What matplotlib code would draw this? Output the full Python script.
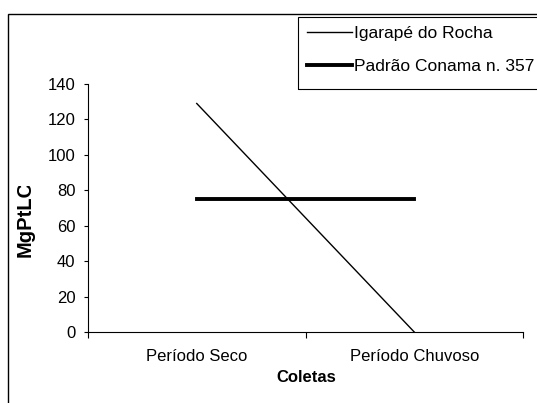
import matplotlib.pyplot as plt
from matplotlib.patches import Rectangle
from matplotlib.transforms import Bbox, TransformedBbox

plt.rcParams['font.family'] = ['Liberation Sans', 'DejaVu Sans']

# Data
categories = ['Período Seco', 'Período Chuvoso']
igarape = [129, 0]
conama = [75, 75]

fig = plt.figure(figsize=(5.37, 4.03), dpi=100)

# outer chart frame (cut off at right and bottom)
fig.patches.append(Rectangle((8 / 537, -0.2), 2, 1.2 - 14 / 403,
                             transform=fig.transFigure, fill=False,
                             edgecolor='black', lw=1.0))
# legend box, also running off the right edge
fig.patches.append(Rectangle((298 / 537, 1 - 89 / 403), 1, 72 / 403,
                             transform=fig.transFigure, fill=False,
                             edgecolor='black', lw=0.8))

ax = fig.add_axes([88 / 537, 71 / 403, 435 / 537, 248 / 403])
x = list(range(len(categories)))
ax.plot(x, igarape, color='black', lw=1.0, label='Igarapé do Rocha')
ax.plot(x, conama, color='black', lw=2.8, label='Padrão Conama n. 357')

ax.set_xlim(-0.5, 1.5)
ax.set_ylim(0, 140)
ax.set_yticks(range(0, 141, 20))
ax.set_xticks([-0.5, 0.5, 1.5])
ax.set_xticklabels([])
ax.set_xticks(x, minor=True)
ax.set_xticklabels(categories, minor=True)
ax.tick_params(axis='x', which='minor', length=0, pad=12, labelsize=12)
ax.tick_params(axis='x', which='major', length=4, direction='out')
ax.tick_params(axis='y', length=3, pad=6, labelsize=12)
for s in ['top', 'right']:
    ax.spines[s].set_visible(False)
for s in ['left', 'bottom']:
    ax.spines[s].set_linewidth(0.8)

fig.text(306 / 537, 1 - 377 / 403, 'Coletas', ha='center', va='center',
         fontsize=12, fontweight='bold')
# axis title is truncated in the original chart
yl = fig.text(25 / 537, 1 - 257 / 403, 'MgPtLCo', rotation=90, ha='center',
              va='bottom', fontsize=14.5, fontweight='bold')
yl.set_clip_box(TransformedBbox(Bbox([[0, 0], [0.2, 1 - 186 / 403]]),
                                fig.transFigure))

leg = fig.legend(loc='upper left', bbox_to_anchor=(298 / 537, 1 - 17 / 403),
                 fontsize=12.5, frameon=False,
                 handlelength=2.6, handletextpad=0.1, labelspacing=1.05,
                 borderpad=0.5, borderaxespad=0)

fig.savefig('out.png', dpi=100)
